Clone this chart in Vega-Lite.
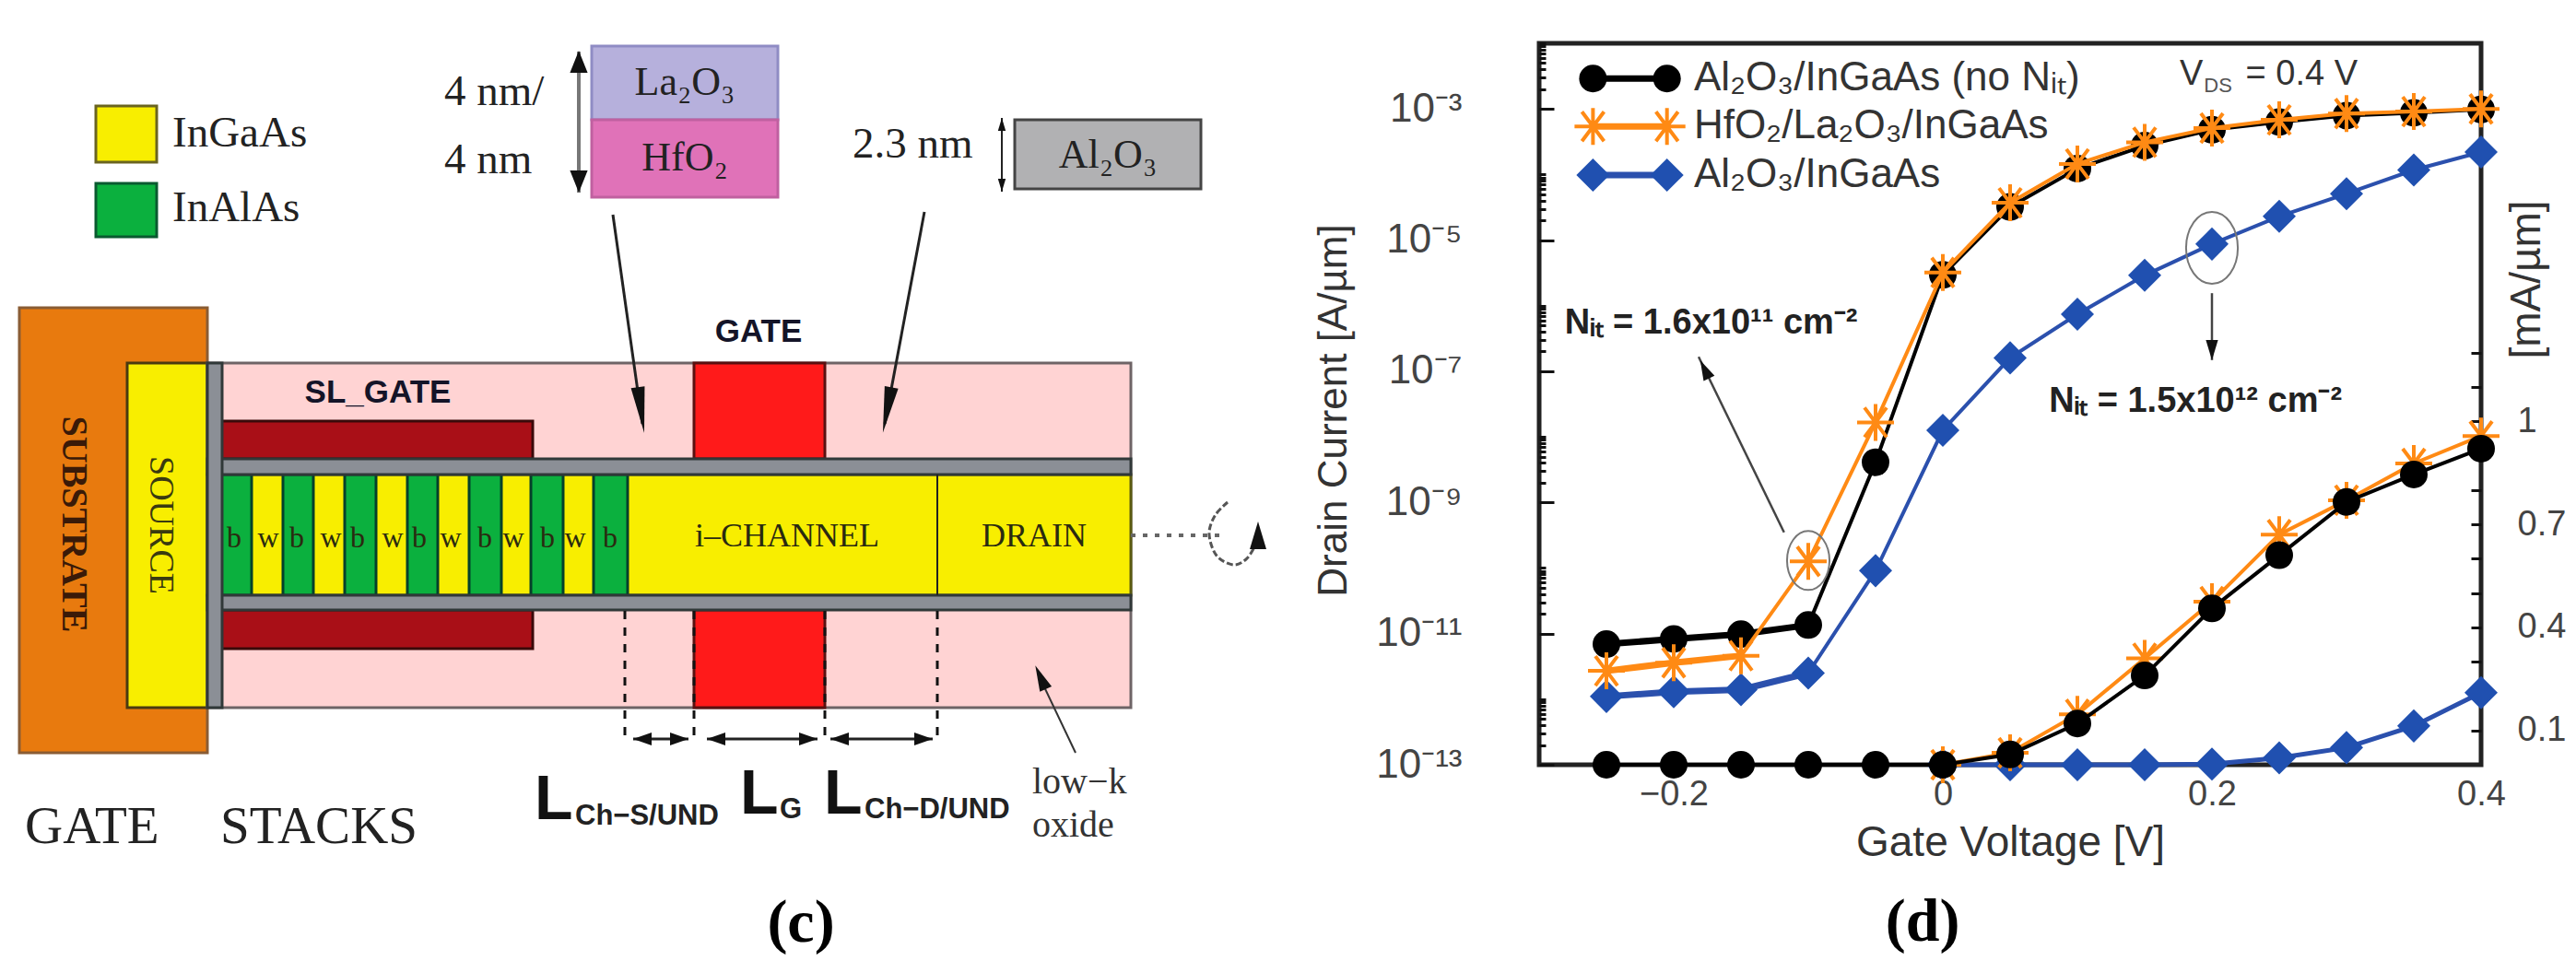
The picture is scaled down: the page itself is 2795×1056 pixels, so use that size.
{
"$schema":"https://vega.github.io/schema/vega-lite/v6.json",
"padding":{"left":0,"top":22,"right":0,"bottom":0},
"background":"white",
"bounds":"flush",
"spacing":270,
"config":{"view":{"stroke":null}},
"datasets":{
"log":[
{"v":-0.25,"i":1.1e-12,"s":"blue","g":"curve"},{"v":-0.2,"i":1.3e-12,"s":"blue","g":"curve"},{"v":-0.15,"i":1.4e-12,"s":"blue","g":"curve"},{"v":-0.1,"i":2.5e-12,"s":"blue","g":"curve"},{"v":-0.05,"i":9.1e-11,"s":"blue","g":"curve"},{"v":0,"i":1.26e-8,"s":"blue","g":"curve"},{"v":0.05,"i":1.6e-7,"s":"blue","g":"curve"},{"v":0.1,"i":7.4e-7,"s":"blue","g":"curve"},{"v":0.15,"i":2.9e-6,"s":"blue","g":"curve"},{"v":0.2,"i":8.7e-6,"s":"blue","g":"curve"},{"v":0.25,"i":2.3e-5,"s":"blue","g":"curve"},{"v":0.3,"i":5.1e-5,"s":"blue","g":"curve"},{"v":0.35,"i":1.17e-4,"s":"blue","g":"curve"},{"v":0.4,"i":2.2e-4,"s":"blue","g":"curve"},
{"v":-0.25,"i":6.9e-12,"s":"black","g":"curve"},{"v":-0.2,"i":8.3e-12,"s":"black","g":"curve"},{"v":-0.15,"i":9.8e-12,"s":"black","g":"curve"},{"v":-0.1,"i":1.35e-11,"s":"black","g":"curve"},{"v":-0.05,"i":4.1e-9,"s":"black","g":"curve"},{"v":0,"i":2.95e-6,"s":"black","g":"curve"},{"v":0.05,"i":3.2e-5,"s":"black","g":"curve"},{"v":0.1,"i":1.23e-4,"s":"black","g":"curve"},{"v":0.15,"i":2.75e-4,"s":"black","g":"curve"},{"v":0.2,"i":4.8e-4,"s":"black","g":"curve"},{"v":0.25,"i":6.3e-4,"s":"black","g":"curve"},{"v":0.3,"i":7.9e-4,"s":"black","g":"curve"},{"v":0.35,"i":8.7e-4,"s":"black","g":"curve"},{"v":0.4,"i":9.8e-4,"s":"black","g":"curve"},
{"v":-0.25,"i":2.7e-12,"s":"orange","g":"curve"},{"v":-0.2,"i":3.6e-12,"s":"orange","g":"curve"},{"v":-0.15,"i":4.6e-12,"s":"orange","g":"curve"},{"v":-0.1,"i":1.26e-10,"s":"orange","g":"curve"},{"v":-0.05,"i":1.66e-8,"s":"orange","g":"curve"},{"v":0,"i":3.2e-6,"s":"orange","g":"curve"},{"v":0.05,"i":3.7e-5,"s":"orange","g":"curve"},{"v":0.1,"i":1.45e-4,"s":"orange","g":"curve"},{"v":0.15,"i":3.1e-4,"s":"orange","g":"curve"},{"v":0.2,"i":5.1e-4,"s":"orange","g":"curve"},{"v":0.25,"i":6.8e-4,"s":"orange","g":"curve"},{"v":0.3,"i":8.5e-4,"s":"orange","g":"curve"},{"v":0.35,"i":9.1e-4,"s":"orange","g":"curve"},{"v":0.4,"i":1.0e-3,"s":"orange","g":"curve"},
{"v":-0.26,"i":2.9e-3,"s":"black","g":"key"},{"v":-0.205,"i":2.9e-3,"s":"black","g":"key"},
{"v":-0.26,"i":5.4e-4,"s":"orange","g":"key"},{"v":-0.205,"i":5.4e-4,"s":"orange","g":"key"},
{"v":-0.26,"i":9.8e-5,"s":"blue","g":"key"},{"v":-0.205,"i":9.8e-5,"s":"blue","g":"key"}
],
"lin":[
{"v":0,"i":0,"s":"orange"},{"v":0.05,"i":0.035,"s":"orange"},{"v":0.1,"i":0.147,"s":"orange"},{"v":0.15,"i":0.31,"s":"orange"},{"v":0.2,"i":0.475,"s":"orange"},{"v":0.25,"i":0.67,"s":"orange"},{"v":0.3,"i":0.77,"s":"orange"},{"v":0.35,"i":0.877,"s":"orange"},{"v":0.4,"i":0.957,"s":"orange"},
{"v":0,"i":0,"s":"blue"},{"v":0.05,"i":0,"s":"blue"},{"v":0.1,"i":0,"s":"blue"},{"v":0.15,"i":0,"s":"blue"},{"v":0.2,"i":0.002,"s":"blue"},{"v":0.25,"i":0.02,"s":"blue"},{"v":0.3,"i":0.05,"s":"blue"},{"v":0.35,"i":0.113,"s":"blue"},{"v":0.4,"i":0.21,"s":"blue"},
{"v":-0.25,"i":0,"s":"black"},{"v":-0.2,"i":0,"s":"black"},{"v":-0.15,"i":0,"s":"black"},{"v":-0.1,"i":0,"s":"black"},{"v":-0.05,"i":0,"s":"black"},{"v":0,"i":0,"s":"black"},{"v":0.05,"i":0.03,"s":"black"},{"v":0.1,"i":0.12,"s":"black"},{"v":0.15,"i":0.26,"s":"black"},{"v":0.2,"i":0.455,"s":"black"},{"v":0.25,"i":0.61,"s":"black"},{"v":0.3,"i":0.765,"s":"black"},{"v":0.35,"i":0.845,"s":"black"},{"v":0.4,"i":0.92,"s":"black"}
],
"rects":[
{"part":"substrate","x":21,"x2":225,"y":334,"y2":817},
{"part":"source","x":138,"x2":225,"y":394,"y2":768},
{"part":"oxide","x":225,"x2":1227,"y":394,"y2":768},
{"part":"gate","x":753,"x2":895,"y":394,"y2":498},
{"part":"gate","x":753,"x2":895,"y":662,"y2":768},
{"part":"slgate","x":240,"x2":578,"y":457,"y2":498},
{"part":"slgate","x":240,"x2":578,"y":662,"y2":704},
{"part":"channel","x":225,"x2":1227,"y":515,"y2":646},
{"part":"barrier","x":238,"x2":273,"y":515,"y2":646},
{"part":"barrier","x":307,"x2":340,"y":515,"y2":646},
{"part":"barrier","x":374,"x2":408,"y":515,"y2":646},
{"part":"barrier","x":442,"x2":475,"y":515,"y2":646},
{"part":"barrier","x":509,"x2":544,"y":515,"y2":646},
{"part":"barrier","x":576,"x2":611,"y":515,"y2":646},
{"part":"barrier","x":644,"x2":681,"y":515,"y2":646},
{"part":"insulator","x":225,"x2":1227,"y":498,"y2":515},
{"part":"insulator","x":225,"x2":1227,"y":646,"y2":662},
{"part":"insulator","x":225,"x2":241,"y":394,"y2":768},
{"part":"keyYellow","x":104,"x2":170,"y":115,"y2":176},
{"part":"keyGreen","x":104,"x2":170,"y":199,"y2":257},
{"part":"la","x":642,"x2":844,"y":50,"y2":130},
{"part":"hf","x":642,"x2":844,"y":130,"y2":214},
{"part":"al","x":1101,"x2":1303,"y":130,"y2":205}
]
},
"hconcat":[
{
"width":1400,"height":1009,
"encoding":{
"x":{"field":"x","type":"quantitative","scale":{"domain":[0,1400],"nice":false,"zero":false},"axis":null},
"y":{"field":"y","type":"quantitative","scale":{"domain":[1056,47],"nice":false,"zero":false},"axis":null}
},
"layer":[
{"data":{"name":"rects"},"mark":{"type":"rect","strokeWidth":3},
"encoding":{"x2":{"field":"x2"},"y2":{"field":"y2"},
"fill":{"field":"part","type":"nominal","legend":null,"scale":{"domain":["substrate","source","oxide","gate","slgate","channel","barrier","insulator","keyYellow","keyGreen","la","hf","al"],"range":["#e87a0e","#f8ee00","#ffd3d3","#ff1a1a","#a90f17","#f8ee00","#0bb03e","#8b8f96","#f8ee00","#0bb03e","#b6b0dc","#e072b8","#b1b1b3"]}},
"stroke":{"field":"part","type":"nominal","legend":null,"scale":{"domain":["substrate","source","oxide","gate","slgate","channel","barrier","insulator","keyYellow","keyGreen","la","hf","al"],"range":["#8a5c34","#4a3a10","#6e6466","#5a1010","#3a0a0a","#5a5a10","#04402a","#303838","#6a6420","#0a5a30","#8f8cc4","#c060a0","#444444"]}}}},
{"data":{"values":[{"x":1017,"x2":1017,"y":515,"y2":646}]},"mark":{"type":"rule","color":"#222","strokeWidth":2},"encoding":{"x2":{"field":"x2"},"y2":{"field":"y2"}}},
{"data":{"values":[{"x":678,"y":663,"y2":800},{"x":753,"y":663,"y2":800},{"x":895,"y":663,"y2":800},{"x":1017,"y":663,"y2":800}]},"mark":{"type":"rule","color":"#111","strokeWidth":3,"strokeDash":[9,9]},"encoding":{"y2":{"field":"y2"}}},
{"data":{"values":[{"x":687,"x2":747,"y":802,"y2":802},{"x":767,"x2":887,"y":802,"y2":802},{"x":901,"x2":1012,"y":802,"y2":802},{"x":665,"x2":697,"y":233,"y2":460},{"x":1003,"x2":960,"y":230,"y2":460}]},"mark":{"type":"rule","color":"#222","strokeWidth":3},"encoding":{"x2":{"field":"x2"},"y2":{"field":"y2"}}},
{"data":{"values":[{"x":628,"y":56,"y2":209}]},"mark":{"type":"rule","color":"#777","strokeWidth":4},"encoding":{"y2":{"field":"y2"}}},
{"data":{"values":[{"x":1087,"y":128,"y2":208}]},"mark":{"type":"rule","color":"#222","strokeWidth":2},"encoding":{"y2":{"field":"y2"}}},
{"data":{"values":[{"x":1167,"x2":1128,"y":817,"y2":735}]},"mark":{"type":"rule","color":"#333","strokeWidth":2},"encoding":{"x2":{"field":"x2"},"y2":{"field":"y2"}}},
{"data":{"values":[{"x":1227,"x2":1325,"y":581,"y2":581}]},"mark":{"type":"rule","color":"#666","strokeWidth":4,"strokeDash":[5,8]},"encoding":{"x2":{"field":"x2"},"y2":{"field":"y2"}}},
{"data":{"values":[{"x":1332,"y":545,"o":1},{"x":1318,"y":560,"o":2},{"x":1312,"y":580,"o":3},{"x":1320,"y":603,"o":4},{"x":1338,"y":613,"o":5},{"x":1352,"y":607,"o":6},{"x":1361,"y":594,"o":7}]},"mark":{"type":"line","color":"#555","strokeWidth":3,"interpolate":"cardinal","strokeDash":[7,3]},"encoding":{"order":{"field":"o","type":"quantitative"}}},
{"data":{"values":[{"x":695.5,"y":445,"h":172},{"x":962.6,"y":445,"h":190.7}]},"mark":{"type":"point","filled":true,"color":"#111","opacity":1,"size":2500,"shape":"M0,-1L0.3,1L-0.3,1Z"},"encoding":{"angle":{"field":"h","type":"quantitative","scale":null}}},
{"data":{"values":[{"x":628,"y":67,"h":0},{"x":628,"y":197,"h":180}]},"mark":{"type":"point","filled":true,"color":"#111","opacity":1,"size":576,"shape":"M0,-1L0.8,1L-0.8,1Z"},"encoding":{"angle":{"field":"h","type":"quantitative","scale":null}}},
{"data":{"values":[{"x":1087,"y":135,"h":0},{"x":1087,"y":201,"h":180}]},"mark":{"type":"point","filled":true,"color":"#111","opacity":1,"size":196,"shape":"M0,-1L0.6,1L-0.6,1Z"},"encoding":{"angle":{"field":"h","type":"quantitative","scale":null}}},
{"data":{"values":[{"x":697,"y":802,"h":270},{"x":737,"y":802,"h":90},{"x":777,"y":802,"h":270},{"x":877,"y":802,"h":90},{"x":911,"y":802,"h":270},{"x":1002,"y":802,"h":90}]},"mark":{"type":"point","filled":true,"color":"#111","opacity":1,"size":400,"shape":"M0,-1L0.7,1L-0.7,1Z"},"encoding":{"angle":{"field":"h","type":"quantitative","scale":null}}},
{"data":{"values":[{"x":1129,"y":735,"h":336}]},"mark":{"type":"point","filled":true,"color":"#111","opacity":1,"size":784,"shape":"M0,-1L0.5,1L-0.5,1Z"},"encoding":{"angle":{"field":"h","type":"quantitative","scale":null}}},
{"data":{"values":[{"x":1365,"y":581,"h":0}]},"mark":{"type":"point","filled":true,"color":"#111","opacity":1,"size":900,"shape":"M0,-1L0.6,1L-0.6,1Z"},"encoding":{"angle":{"field":"h","type":"quantitative","scale":null}}},
{"data":{"values":[{"x":187,"y":145,"t":"InGaAs"},{"x":187,"y":226,"t":"InAlAs"},{"x":482,"y":100,"t":"4 nm/"},{"x":482,"y":174,"t":"4 nm"},{"x":925,"y":157,"t":"2.3 nm"}]},"mark":{"type":"text","font":"Liberation Serif","fontSize":47,"align":"left","baseline":"middle","color":"#222"},"encoding":{"text":{"field":"t"}}},
{"data":{"values":[{"x":743,"y":90,"t":"La₂O₃"},{"x":743,"y":172,"t":"HfO₂"},{"x":1202,"y":169,"t":"Al₂O₃"}]},"mark":{"type":"text","font":"Liberation Serif","fontSize":44,"align":"center","baseline":"middle","color":"#222"},"encoding":{"text":{"field":"t"}}},
{"data":{"values":[{"x":254,"y":584,"t":"b"},{"x":322,"y":584,"t":"b"},{"x":388,"y":584,"t":"b"},{"x":455,"y":584,"t":"b"},{"x":526,"y":584,"t":"b"},{"x":594,"y":584,"t":"b"},{"x":662,"y":584,"t":"b"},{"x":291,"y":584,"t":"w"},{"x":359,"y":584,"t":"w"},{"x":426,"y":584,"t":"w"},{"x":489,"y":584,"t":"w"},{"x":557,"y":584,"t":"w"},{"x":624,"y":584,"t":"w"}]},"mark":{"type":"text","font":"Liberation Serif","fontSize":32,"align":"center","baseline":"middle","color":"#2a2a10"},"encoding":{"text":{"field":"t"}}},
{"data":{"values":[{"x":854,"y":582,"t":"i–CHANNEL"},{"x":1122,"y":582,"t":"DRAIN"}]},"mark":{"type":"text","font":"Liberation Serif","fontSize":36,"align":"center","baseline":"middle","color":"#2a2a10"},"encoding":{"text":{"field":"t"}}},
{"data":{"values":[{"x":80,"y":569,"t":"SUBSTRATE"}]},"mark":{"type":"text","font":"Liberation Serif","fontWeight":"bold","fontSize":40,"angle":90,"align":"center","baseline":"middle","color":"#3a1a08"},"encoding":{"text":{"field":"t"}}},
{"data":{"values":[{"x":174,"y":570,"t":"SOURCE"}]},"mark":{"type":"text","font":"Liberation Serif","fontSize":38,"angle":90,"align":"center","baseline":"middle","color":"#3a3a10"},"encoding":{"text":{"field":"t"}}},
{"data":{"values":[{"x":410,"y":426,"t":"SL_GATE"},{"x":823,"y":360,"t":"GATE"}]},"mark":{"type":"text","font":"Liberation Sans","fontWeight":"bold","fontSize":35,"align":"center","baseline":"middle","color":"#141428"},"encoding":{"text":{"field":"t"}}},
{"data":{"values":[{"x":580,"y":889,"t":"L"},{"x":803,"y":883,"t":"L"},{"x":894,"y":883,"t":"L"}]},"mark":{"type":"text","font":"Liberation Sans","fontWeight":"bold","fontSize":68,"align":"left","baseline":"alphabetic","color":"#111"},"encoding":{"text":{"field":"t"}}},
{"data":{"values":[{"x":624,"y":895,"t":"Ch−S/UND"},{"x":846,"y":888,"t":"G"},{"x":938,"y":888,"t":"Ch−D/UND"}]},"mark":{"type":"text","font":"Liberation Sans","fontWeight":"bold","fontSize":31,"align":"left","baseline":"alphabetic","color":"#222"},"encoding":{"text":{"field":"t"}}},
{"data":{"values":[{"x":1120,"y":861,"t":"low−k"},{"x":1120,"y":908,"t":"oxide"}]},"mark":{"type":"text","font":"Liberation Serif","fontSize":40,"align":"left","baseline":"alphabetic","color":"#333"},"encoding":{"text":{"field":"t"}}},
{"data":{"values":[{"x":27,"y":915,"t":"GATE"},{"x":239,"y":915,"t":"STACKS"}]},"mark":{"type":"text","font":"Liberation Serif","fontSize":57,"align":"left","baseline":"alphabetic","color":"#222"},"encoding":{"text":{"field":"t"}}},
{"data":{"values":[{"x":869,"y":1002,"t":"(c)"}]},"mark":{"type":"text","font":"Liberation Serif","fontWeight":"bold","fontSize":66,"align":"center","baseline":"middle","color":"#000"},"encoding":{"text":{"field":"t"}}}
]
},
{
"width":1022,"height":783,
"view":{"stroke":"#222","strokeWidth":5},
"resolve":{"scale":{"y":"independent"}},
"encoding":{
"x":{"field":"v","type":"quantitative","scale":{"domain":[-0.3,0.4],"nice":false,"zero":false},
"axis":{"values":[-0.2,0,0.2,0.4],"labelExpr":"datum.value==-0.2?'−0.2':format(datum.value,'~g')","title":"Gate Voltage [V]","titleFont":"Liberation Sans","titleFontWeight":"normal","titleFontSize":46,"titleColor":"#333","titleX":511,"titleY":84,"titleBaseline":"middle","labelFont":"Liberation Sans","labelFontSize":38,"labelColor":"#444","labelPadding":13,"tickSize":0,"domain":false,"grid":false,"labelFlush":false,"labelOverlap":false,"labelBound":false}}
},
"layer":[
{
"encoding":{"y":{"field":"i","type":"quantitative","scale":{"type":"log","domain":[1e-13,1e-2],"nice":false},
"axis":{"orient":"left","values":[1e-13,2e-13,3e-13,4e-13,5e-13,6e-13,7e-13,8e-13,9e-13,1e-12,1e-11,2e-11,3e-11,4e-11,5e-11,6e-11,7e-11,8e-11,9e-11,1e-10,1e-9,2e-9,3e-9,4e-9,5e-9,6e-9,7e-9,8e-9,9e-9,1e-8,1e-7,2e-7,3e-7,4e-7,5e-7,6e-7,7e-7,8e-7,9e-7,1e-6,1e-5,2e-5,3e-5,4e-5,5e-5,6e-5,7e-5,8e-5,9e-5,1e-4,1e-3,2e-3,3e-3,4e-3,5e-3,6e-3,7e-3,8e-3,9e-3,1e-2],
"labelExpr":"datum.value==1e-3?'10⁻³':datum.value==1e-5?'10⁻⁵':datum.value==1e-7?'10⁻⁷':datum.value==1e-9?'10⁻⁹':datum.value==1e-11?'10⁻¹¹':datum.value==1e-13?'10⁻¹³':''",
"title":"Drain Current [A/µm]","titleFont":"Liberation Sans","titleFontWeight":"normal","titleFontSize":44,"titleColor":"#333","titleX":-223,"titleY":398,"titleBaseline":"middle","titleAngle":-90,
"labelFont":"Liberation Sans","labelFontSize":44,"labelColor":"#444","labelPadding":100,"labelOverlap":false,"labelBound":false,"labelFlush":false,"domain":false,"grid":false,"tickColor":"#111",
"tickWidth":3,
"tickSize":{"condition":{"test":"abs(log(datum.value)/LN10-round(log(datum.value)/LN10))<0.01&&abs(round(log(datum.value)/LN10))%2==1","value":-16},"value":-7}}}},
"layer":[
{"data":{"name":"log"},"transform":[{"filter":"datum.s=='blue'"}],"mark":{"type":"line","color":"#2b50ad","strokeWidth":4},"encoding":{"detail":{"field":"g"}}},
{"data":{"name":"log"},"transform":[{"filter":"datum.s=='blue'&&(datum.g=='key'||datum.v<=-0.1)"}],"mark":{"type":"line","color":"#2b50ad","strokeWidth":7},"encoding":{"detail":{"field":"g"}}},
{"data":{"name":"log"},"transform":[{"filter":"datum.s=='blue'"}],"mark":{"type":"point","filled":true,"opacity":1,"color":"#2050b0","shape":"diamond","size":1300}},
{"data":{"name":"log"},"transform":[{"filter":"datum.s=='black'"}],"mark":{"type":"line","color":"#000","strokeWidth":4},"encoding":{"detail":{"field":"g"}}},
{"data":{"name":"log"},"transform":[{"filter":"datum.s=='black'&&(datum.g=='key'||datum.v<=-0.1)"}],"mark":{"type":"line","color":"#000","strokeWidth":7},"encoding":{"detail":{"field":"g"}}},
{"data":{"name":"log"},"transform":[{"filter":"datum.s=='black'"}],"mark":{"type":"point","filled":true,"opacity":1,"color":"#000","shape":"circle","size":900}},
{"data":{"name":"log"},"transform":[{"filter":"datum.s=='orange'"}],"mark":{"type":"line","color":"#ff8a14","strokeWidth":4},"encoding":{"detail":{"field":"g"}}},
{"data":{"name":"log"},"transform":[{"filter":"datum.s=='orange'&&(datum.g=='key'||datum.v<=-0.15)"}],"mark":{"type":"line","color":"#ff8a14","strokeWidth":7},"encoding":{"detail":{"field":"g"}}},
{"data":{"name":"log"},"transform":[{"filter":"datum.s=='orange'"}],"mark":{"type":"point","filled":false,"opacity":1,"color":"#ff8a14","strokeWidth":4,"size":1600,"shape":"M-1,0L1,0M0,-1L0,1M-0.6,-0.8L0.6,0.8M-0.6,0.8L0.6,-0.8"}},
{"data":{"values":[{"v":-0.1,"i":1.3e-10}]},"mark":{"type":"point","filled":false,"opacity":1,"color":"#777","strokeWidth":2,"size":4096,"shape":"M-0.72,0A0.72,1 0 1,0 0.72,0A0.72,1 0 1,0 -0.72,0Z"}},
{"data":{"values":[{"v":0.2,"i":7.6e-6}]},"mark":{"type":"point","filled":false,"opacity":1,"color":"#777","strokeWidth":2,"size":6084,"shape":"M-0.72,0A0.72,1 0 1,0 0.72,0A0.72,1 0 1,0 -0.72,0Z"}},
{"data":{"values":[{"v":-0.118,"i":3.5e-10,"a":"n1"},{"v":-0.1815,"i":1.66e-7,"a":"n1"},{"v":0.2,"i":1.55e-6,"a":"n2"},{"v":0.2,"i":1.48e-7,"a":"n2"}]},"mark":{"type":"line","color":"#444","strokeWidth":2.5},"encoding":{"detail":{"field":"a"}}},
{"data":{"values":[{"v":-0.177,"i":1.07e-7,"h":334},{"v":0.2,"i":2.1e-7,"h":180}]},"mark":{"type":"point","filled":true,"opacity":1,"color":"#111","size":484,"shape":"M0,-1L0.6,1L-0.6,1Z"},"encoding":{"angle":{"field":"h","type":"quantitative","scale":null}}},
{"data":{"values":[{"v":-0.185,"i":2.9e-3,"t":"Al₂O₃/InGaAs (no Nᵢₜ)"},{"v":-0.185,"i":5.4e-4,"t":"HfO₂/La₂O₃/InGaAs"},{"v":-0.185,"i":9.8e-5,"t":"Al₂O₃/InGaAs"}]},"mark":{"type":"text","font":"Liberation Sans","fontSize":44,"align":"left","baseline":"middle","color":"#333"},"encoding":{"text":{"field":"t"}}},
{"data":{"values":[{"v":-0.281,"i":3.7e-7,"t":"Nᵢₜ = 1.6x10¹¹ cm⁻²"},{"v":0.079,"i":2.4e-8,"t":"Nᵢₜ = 1.5x10¹² cm⁻²"}]},"mark":{"type":"text","font":"Liberation Sans","fontWeight":"bold","fontSize":38,"align":"left","baseline":"alphabetic","color":"#222"},"encoding":{"text":{"field":"t"}}},
{"data":{"values":[{"v":0.176,"i":2.34e-3,"t":"V"},{"v":0.225,"i":2.34e-3,"t":"= 0.4 V"}]},"mark":{"type":"text","font":"Liberation Sans","fontSize":38,"align":"left","baseline":"alphabetic","color":"#333"},"encoding":{"text":{"field":"t"}}},
{"data":{"values":[{"v":0.194,"i":1.78e-3,"t":"DS"}]},"mark":{"type":"text","font":"Liberation Sans","fontSize":22,"align":"left","baseline":"alphabetic","color":"#555"},"encoding":{"text":{"field":"t"}}},
{"data":{"values":[{"v":-0.015,"i":4e-16,"t":"(d)"}]},"mark":{"type":"text","font":"Liberation Serif","fontWeight":"bold","fontSize":66,"align":"center","baseline":"middle","color":"#000"},"encoding":{"text":{"field":"t"}}}
]
},
{
"encoding":{"y":{"field":"i","type":"quantitative","scale":{"domain":[0,2.1],"nice":false},
"axis":{"orient":"right","values":[0.1,0.2,0.3,0.4,0.5,0.6,0.7,0.8,0.9,1,1.1,1.2],
"labelExpr":"datum.value==0.1||datum.value==0.4||datum.value==0.7||datum.value==1?format(datum.value,'~g'):''",
"title":"[mA/µm]","titleFont":"Liberation Sans","titleFontWeight":"normal","titleFontSize":46,"titleColor":"#333","titleX":49,"titleY":256,"titleBaseline":"middle","titleAngle":-90,
"labelFont":"Liberation Sans","labelFontSize":38,"labelColor":"#444","labelAlign":"left","labelPadding":50,"labelOverlap":false,"labelBound":false,"labelFlush":false,"domain":false,"grid":false,"tickColor":"#111","tickWidth":3,"tickSize":-11}}},
"layer":[
{"data":{"name":"lin"},"transform":[{"filter":"datum.s=='blue'"}],"mark":{"type":"line","color":"#2b50ad","strokeWidth":5}},
{"data":{"name":"lin"},"transform":[{"filter":"datum.s=='blue'"}],"mark":{"type":"point","filled":true,"opacity":1,"color":"#2050b0","shape":"diamond","size":1300}},
{"data":{"name":"lin"},"transform":[{"filter":"datum.s=='orange'"}],"mark":{"type":"line","color":"#ff8a14","strokeWidth":4}},
{"data":{"name":"lin"},"transform":[{"filter":"datum.s=='orange'"}],"mark":{"type":"point","filled":false,"opacity":1,"color":"#ff8a14","strokeWidth":4,"size":1600,"shape":"M-1,0L1,0M0,-1L0,1M-0.6,-0.8L0.6,0.8M-0.6,0.8L0.6,-0.8"}},
{"data":{"name":"lin"},"transform":[{"filter":"datum.s=='black'"}],"mark":{"type":"line","color":"#000","strokeWidth":4}},
{"data":{"name":"lin"},"transform":[{"filter":"datum.s=='black'"}],"mark":{"type":"point","filled":true,"opacity":1,"color":"#000","shape":"circle","size":900}}
]
}
]
}
]
}
